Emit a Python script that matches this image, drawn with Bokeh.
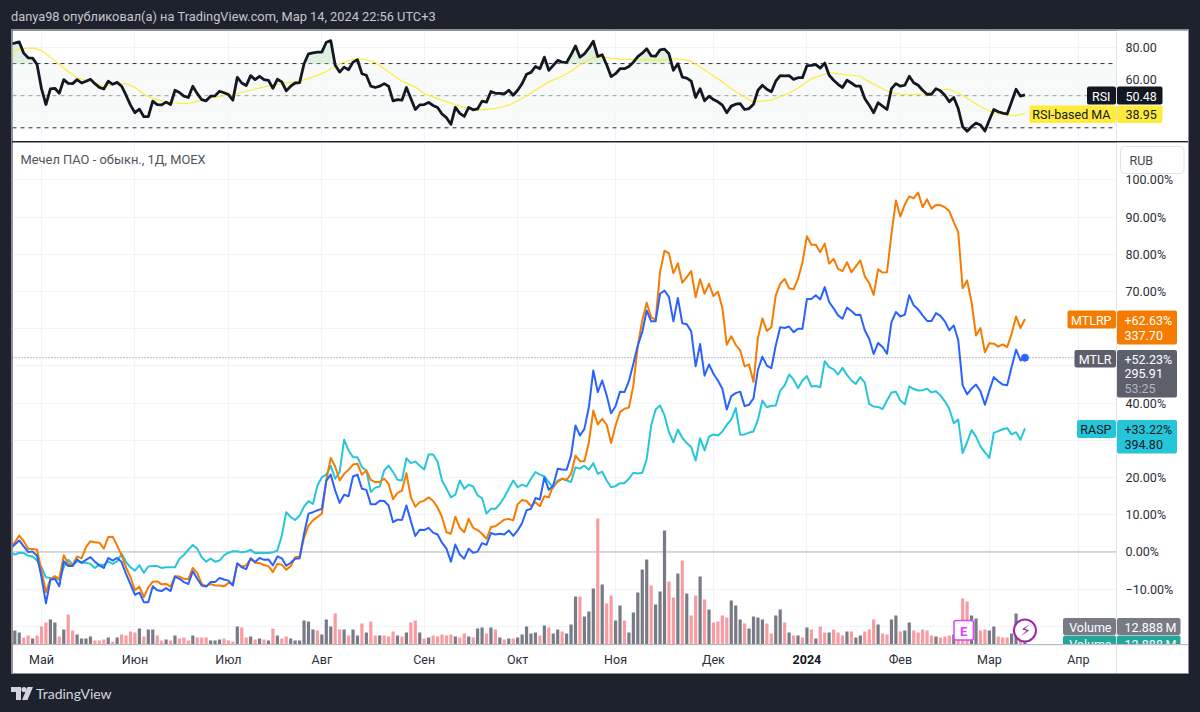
from bokeh.embed import file_html
from bokeh.layouts import column
from bokeh.models import BoxAnnotation, Div, FixedTicker, GlobalInlineStyleSheet, Label, Range1d, Span
from bokeh.plotting import figure
from bokeh.resources import INLINE
import numpy as np

# дневные значения (индекс = торговый день)
mtlr = [
    0.9, 2.0, 3.1, 1.5, 0, 0.1, -1, -6.8, -13.8, -7.5, -7.2, -9.2, -2.5, -3.8, -3.8, -2, -2.9, -2.1, -1.4, -2.6,
    -3.6, -4.3, -1.6, -2.3, -1.6, -2.7, -5.9, -8.7, -11.5, -10.9, -13.5, -13.5, -9.2, -10.3, -10.5, -9.7, -10.5, -6.6, -7.2, -8.1,
    -8.6, -5.2, -7.2, -9, -9.3, -8.1, -8.1, -7, -7.4, -7.7, -9, -3, -4.1, -4.6, -1.7, -2.7, -1.6, -2.1, -2, -3.6,
    -1.2, -1.7, -3.7, -2.9, -1.8, -1.7, 4.9, 10.3, 10.7, 11.2, 11.6, 19.2, 20.8, 16.5, 13.2, 15.4, 15, 20.3, 20.8, 17,
    16.7, 12.8, 12.8, 13.8, 13.7, 12.5, 8, 8.7, 8.6, 12.5, 8.3, 4.3, 6, 5.9, 6.5, 5.2, 4.7, 2.5, 0.9, -2.6,
    2, -0.7, -1.8, 0.9, -0.2, 0.1, 2.4, 1.9, 5.1, 4.7, 4.9, 4.7, 5.8, 4.3, 5.8, 7.8, 11.2, 11.6, 14.5, 14.1,
    20.1, 16.7, 17.9, 22.4, 22.2, 22.1, 25.9, 34, 31.3, 33.1, 38.9, 48.8, 43, 46.1, 42.1, 37.3, 39.2, 43.1, 43, 45.9,
    50.6, 55.5, 59.1, 64.9, 62, 62, 69.4, 70.3, 68.5, 62, 68.3, 61.5, 61.2, 59.3, 49.9, 55.9, 47.4, 50.4, 47.9, 46.1,
    43.9, 38.3, 41.9, 42.7, 43.1, 39.2, 39.6, 41.3, 49, 52.5, 50.1, 49.4, 55.5, 60.4, 60.2, 60.6, 59.1, 60, 60, 68,
    68, 69, 67.9, 71.2, 67.2, 65.5, 63.6, 62.7, 65.7, 64.8, 63.7, 63.8, 59.6, 57.3, 53.2, 56.2, 55.1, 53.3, 61.8, 64.5,
    63.3, 63.8, 69, 66.3, 65.2, 63.6, 62.1, 62.1, 64.2, 63.5, 62, 59.6, 60.9, 57, 44.8, 42.4, 43.9, 45, 43.2, 39.6,
    43.4, 47, 45.9, 45, 44.8, 49.7, 54.4, 51.5, 52.23,
]
mtlrp = [
    0.9, 2.6, 4.4, 2.9, 0.9, 0.8, 0.6, -5, -10.8, -7.3, -6.5, -7.2, -0.9, -3.2, -3.4, -1.2, -1.7, 1.3, 2.9, 2.6,
    2.5, 0.9, 4, 4.1, 1.7, -0.9, -4.1, -6.8, -10.3, -9.3, -12.1, -9.5, -8, -7.9, -8.7, -8.6, -9.3, -6.5, -6.6, -7.2,
    -7.3, -4.3, -5.7, -8.6, -9.2, -8.6, -9, -9, -9.3, -8.3, -8.6, -3.2, -3.9, -3.6, -1.8, -2.9, -3, -3.5, -3.8, -5.4,
    -3.2, -3.4, -4.8, -3.8, -1.4, -1.2, 3.8, 7.1, 8.5, 9.4, 10.3, 19.2, 25.3, 23, 19.2, 21, 22.1, 23.5, 23.7, 20.8,
    21.9, 19.4, 18.8, 18.8, 19.7, 18.3, 14.2, 15.9, 16.5, 21.2, 14.7, 12.2, 13.4, 13.8, 14.7, 13.7, 12, 9.4, 5.3, 4.9,
    9.5, 6.5, 5.3, 8.9, 6.5, 5.9, 4.9, 3.5, 6.7, 6.9, 7.8, 8.7, 8.9, 8.5, 12.8, 14, 13.7, 12.3, 13.4, 12.3,
    15, 14.7, 17.9, 18.8, 19.7, 19.4, 21, 25.9, 24.4, 24.4, 29.5, 38, 34.3, 35.8, 34.2, 29.3, 34, 37.6, 38.5, 38.8,
    44.8, 55.5, 62.2, 67, 63.1, 62.4, 75.2, 81, 80.3, 74.9, 77.6, 72.4, 73.9, 75.5, 68.5, 73.3, 69.4, 72.1, 68.8, 70,
    65.6, 55.7, 58, 55.7, 54.2, 49.9, 50.4, 45.7, 57.6, 62.8, 59.4, 60.4, 69, 72.1, 73.4, 70.9, 70.6, 73.4, 77.9, 84.9,
    82.6, 82.6, 80.6, 82.9, 77.5, 78.8, 76.1, 75.5, 77.9, 75.2, 76.8, 78.4, 74.1, 72.3, 69.1, 76, 75.1, 75.2, 85.5, 94.5,
    90.2, 93.4, 95.6, 95.1, 96.6, 92.7, 94.8, 92.3, 93.3, 93.2, 92.7, 91.6, 88.7, 86, 70.9, 73, 67.2, 58.2, 60.2, 53.7,
    56.1, 56, 55.2, 55.8, 55.1, 58.6, 63.3, 60.2, 62.63,
]
rasp = [
    0, -0.7, -0.2, -0.3, -1, -1.2, -2.3, -4.1, -6.8, -7, -7, -7.5, -4.1, -2.1, -3.4, -2.5, -2.9, -2.9, -3.2, -4.3,
    -3.4, -3.5, -2.5, -3.2, -2.5, -0.5, -2.7, -4.1, -5, -3.6, -5.6, -3.9, -3.8, -3.8, -4.3, -4.1, -4.1, -4.1, -1.8, -0.8,
    0.6, 1.9, 0.9, -1.4, -2.6, -1.8, -2.6, -2.3, -0.9, -0.2, 0.2, 0.2, -0.1, 0.1, 0.6, -0.3, -0.2, -0.3, -0.3, -0.1,
    0.4, 4.4, 10.7, 9.4, 8.6, 9.8, 12.2, 13.7, 12.9, 17.9, 20.1, 20.8, 23.2, 19.7, 21.5, 30.2, 27.3, 25.5, 25.5, 22.8,
    21.9, 16.1, 17.3, 17.6, 21.9, 23.2, 21.5, 19.4, 19.2, 25.2, 23.9, 24.3, 23.2, 22.2, 26.2, 26.2, 24.3, 19.2, 17, 14.7,
    15.4, 19.2, 17, 18.1, 17.6, 15.2, 14.5, 10.3, 11.6, 11.6, 12.9, 14.7, 17, 19.2, 17.4, 18.1, 17.6, 19.7, 21.5, 20.8,
    20.3, 18.8, 17.3, 19.2, 19.7, 19.2, 18.8, 22.8, 22.4, 23.2, 22.1, 23.9, 21, 21.6, 19.2, 17.4, 17.7, 18.5, 18.5, 19.7,
    21.3, 21.1, 21.3, 25, 34, 38.3, 39.4, 36.7, 32.2, 29.5, 32.9, 30.7, 29.3, 28.2, 24.6, 30.6, 27.3, 31, 31.6, 31.3,
    32.4, 34.2, 35.6, 38.7, 31.5, 31.6, 32.1, 32.4, 35.6, 40.7, 38.9, 39.3, 39.4, 43.4, 44.8, 47.7, 46.4, 44, 46.1, 47.3,
    44.5, 44.6, 44.3, 51.3, 49.7, 49.1, 47.7, 49.5, 47.6, 46.1, 45.2, 47, 45.5, 39.8, 39.1, 39, 38.4, 40.7, 42.9, 43.1,
    40.7, 39.7, 44.5, 43.8, 43.4, 43.5, 43.9, 42.9, 43.2, 42.1, 40.5, 38.5, 34.6, 35.6, 26.6, 29.5, 32.8, 31, 28.4, 26.8,
    25.3, 32, 32.5, 33, 33.3, 31.6, 32.2, 30.2, 33.22,
]
rsi = [
    82.3, 82.7, 83.5, 76.5, 73.6, 73.4, 69.5, 54.4, 44.5, 54.2, 54.6, 51.5, 60, 57.7, 57.5, 60, 57.9, 59, 60.2, 57.5,
    55.2, 54.2, 59, 57.1, 58.3, 55.9, 50.3, 44.1, 39.4, 41.6, 36.9, 36.9, 46.6, 44.5, 44.3, 46, 44.5, 53.4, 52, 49.7,
    48.9, 55.9, 51.3, 47.6, 46.8, 49.7, 49.9, 52.8, 51.8, 50.7, 47.2, 61.4, 57.9, 56.3, 62.5, 60, 62.1, 60, 59.6, 54.6,
    60.2, 58.6, 53, 55.9, 57.9, 58.1, 69.9, 76.1, 76.7, 77.1, 77.1, 83.3, 84.3, 68.9, 64.7, 67.8, 66.2, 70.9, 72.4, 63.7,
    62.7, 55.9, 55.1, 55.9, 57.5, 55.9, 46.8, 47.6, 47.2, 55.1, 48.2, 41.4, 44.3, 44.5, 45.8, 43.9, 42.7, 38.6, 36.3, 32.2,
    42.7, 39, 37.1, 42.7, 41.2, 41.8, 46.6, 46, 52.6, 51.5, 51.5, 51.1, 53.4, 50.3, 53.4, 57.5, 63.3, 64.5, 68.2, 66.8,
    74, 65.8, 68.9, 72, 70.9, 70.7, 75.5, 81, 74, 76.1, 79.6, 83.9, 74.4, 75.5, 69.3, 61.9, 63.7, 66.8, 66.8, 68.2,
    70.9, 74.4, 76.5, 79.2, 74.8, 74.6, 78.5, 79, 76.1, 65.8, 69.9, 61.6, 61, 59, 48.9, 54.4, 46.8, 49.7, 47.6, 46.2,
    44.1, 39.4, 43.5, 44.7, 45.1, 41.4, 42, 44.7, 53.4, 56.5, 54, 52.4, 59, 62.5, 62.3, 62.5, 60.2, 61.2, 61.2, 68.7,
    68.9, 69.3, 67.2, 70.3, 62.7, 59.6, 57.1, 55.1, 59.6, 57.9, 55.9, 55.9, 48.2, 44.1, 39.4, 45.6, 43.5, 41.4, 54.4, 57.5,
    55.9, 56.5, 62.1, 58.1, 56.5, 53.4, 50.9, 50.9, 54.4, 53, 50.3, 46.2, 48.9, 42, 30.7, 27.8, 30.7, 33, 31.8, 28,
    34.8, 41.4, 40, 39.2, 38.6, 46.2, 54, 49.7, 50.48,
]
rsi_ma_bars = [
    0, 2, 5, 7, 9, 12, 15, 18, 21, 24, 26, 28, 30, 32, 36, 40, 43, 46, 50, 54, 58, 61, 65, 68, 71, 74, 77, 79, 82, 85,
    88, 91, 93, 97, 101, 105, 109, 112, 115, 118, 121, 124, 126, 128, 131, 133, 137, 142, 146, 150, 153, 155, 159, 163,
    167, 171, 175, 177, 180, 184, 187, 191, 193, 198, 200, 206, 208, 211, 214, 218, 221, 224, 226, 228,
]
rsi_ma = [
    76.7, 79.2, 79.8, 78.1, 74, 67.2, 61, 59, 55.9, 57.5, 57.5, 55.1, 50.9, 48.2, 45.6, 45, 47.2, 49.3, 50.7, 53.4, 56.1,
    57.5, 59, 61.6, 65, 69.9, 72.6, 73, 70.7, 64.7, 59, 55.5, 51.3, 47.2, 43.5, 41, 42, 44.1, 48.2, 53.4, 58.6, 62.1,
    65.2, 69.3, 73.6, 74, 72.8, 72.4, 72, 73, 71.5, 67.8, 60.6, 52.4, 46, 47.2, 51.7, 54.8, 60.6, 64.3, 63.3, 62.1, 58.6,
    51.7, 50.9, 50.9, 53.4, 54, 50.3, 43.1, 39.4, 37.9, 37.5, 38.95,
]
volume = [
    10, 14, 12, 7, 9, 6, 9, 18, 22, 25, 22, 8, 15, 30, 14, 10, 6, 6, 8, 4,
    4, 5, 7, 3, 7, 10, 9, 13, 12, 16, 8, 15, 15, 9, 4, 5, 4, 9, 6, 7,
    4, 9, 7, 7, 7, 4, 4, 5, 6, 4, 3, 18, 17, 7, 8, 5, 6, 5, 4, 16,
    9, 6, 8, 6, 4, 4, 24, 23, 15, 14, 10, 25, 18, 31, 15, 15, 9, 15, 9, 21,
    12, 23, 9, 9, 9, 8, 13, 9, 8, 12, 22, 24, 12, 6, 7, 9, 8, 10, 9, 10,
    8, 7, 11, 8, 7, 16, 17, 11, 17, 15, 7, 5, 6, 6, 7, 10, 18, 11, 12, 9,
    19, 17, 11, 15, 13, 11, 20, 48, 48, 28, 33, 56, 126, 60, 41, 49, 24, 39, 24, 12,
    32, 52, 75, 85, 59, 40, 53, 114, 63, 47, 71, 84, 51, 29, 49, 68, 45, 35, 22, 23,
    29, 27, 44, 39, 25, 21, 16, 28, 27, 25, 21, 11, 29, 35, 22, 12, 9, 9, 7, 17,
    15, 6, 18, 12, 12, 15, 12, 9, 13, 13, 7, 9, 13, 15, 25, 20, 11, 10, 25, 29,
    13, 14, 22, 14, 12, 15, 14, 9, 8, 7, 8, 9, 10, 12, 46, 43, 29, 26, 14, 15,
    14, 18, 8, 7, 7, 11, 31, 10, 12.888,
]
volume_up = [
    0, 1, 1, 0, 0, 1, 0, 0, 0, 1, 1, 0, 1, 0, 0, 1, 1, 1, 1, 0,
    0, 0, 1, 0, 1, 0, 0, 0, 0, 1, 0, 1, 1, 0, 0, 1, 0, 1, 0, 0,
    0, 1, 0, 0, 0, 1, 1, 1, 0, 0, 0, 1, 0, 0, 1, 0, 1, 0, 1, 0,
    1, 0, 0, 1, 1, 1, 1, 1, 1, 0, 1, 1, 1, 0, 0, 1, 0, 1, 1, 0,
    1, 0, 0, 1, 0, 0, 0, 1, 0, 1, 0, 0, 1, 0, 1, 0, 0, 0, 0, 0,
    1, 0, 0, 1, 0, 1, 1, 0, 1, 0, 1, 0, 1, 0, 1, 1, 1, 1, 1, 0,
    1, 0, 1, 1, 0, 1, 1, 1, 0, 1, 1, 1, 0, 1, 0, 0, 1, 1, 0, 1,
    1, 1, 1, 1, 0, 1, 1, 1, 0, 0, 1, 0, 1, 0, 0, 1, 0, 1, 0, 0,
    0, 0, 1, 1, 1, 0, 1, 1, 1, 1, 0, 0, 1, 1, 0, 1, 0, 1, 0, 1,
    0, 1, 0, 0, 1, 0, 0, 0, 1, 0, 1, 1, 0, 0, 0, 1, 0, 0, 1, 1,
    0, 1, 1, 0, 0, 0, 0, 0, 1, 0, 0, 0, 1, 0, 0, 0, 1, 1, 0, 0,
    1, 1, 0, 0, 0, 1, 1, 0, 1,
]
month_bars = [7, 28, 49, 70, 93, 114, 136, 158, 179, 200, 220, 240]
month_labels = ["Май", "Июн", "Июл", "Авг", "Сен", "Окт", "Ноя", "Дек", "2024", "Фев", "Мар", "Апр"]
pct_ticks = [-20, -10, 0, 10, 20, 30, 40, 50, 60, 70, 80, 90, 100]
rsi_ticks = [40, 60, 80]
rsi_labels = ["40.00", "60.00", "80.00"]

for s in (mtlr, mtlrp, rasp, rsi, volume, volume_up):
    assert len(s) == 229, len(s)
bars = list(range(229))

FONT = "Roboto"
BLUE, ORANGE, CYAN = "#2962ff", "#f57c00", "#26c6da"
DARK = "#1e222d"
TEXT = "#2a2e39"
GRID = "#f0f3fa"
LINE = "#e0e3eb"
# фрейм на всю ширину панели, ценовая шкала нарисована внутри него: подписи за краем фрейма обрезаются
X_RANGE = (0.483, 264.75)
AXIS_X = 248.57


def make_pane(height, y_range, ticks):
    p = figure(width=1176, height=height, x_range=X_RANGE, y_range=y_range, output_backend="svg",
               toolbar_location=None, min_border=0, outline_line_color=None,
               border_fill_color="white", background_fill_color="white")
    p.xaxis.visible = False
    p.yaxis.visible = False
    p.xgrid.ticker = FixedTicker(ticks=month_bars)
    p.ygrid.ticker = FixedTicker(ticks=ticks)
    p.grid.grid_line_color = GRID
    # белая полоса прячет сетку под шкалой
    p.add_layout(BoxAnnotation(left=AXIS_X, fill_color="white", fill_alpha=1, line_alpha=0, level="glyph"))
    p.add_layout(Span(location=AXIS_X, dimension="height", line_color=LINE, line_width=1))
    return p


def axis_labels(p, ticks, labels):
    for t, s in zip(ticks, labels):
        p.add_layout(Label(x=1113, x_units="screen", y=t, text=s, text_font=FONT, text_font_size="12.5px",
                           text_color=TEXT, text_baseline="middle"))


# page_bottom - y страницы, где кончается фрейм: подписи задаем в пикселях страницы
def box(p, page_bottom, left, right, top, bottom, color, **kw):
    p.add_layout(BoxAnnotation(left=left - 12, right=right - 12, top=page_bottom - top, bottom=page_bottom - bottom,
                               left_units="screen", right_units="screen", top_units="screen", bottom_units="screen",
                               fill_color=color, fill_alpha=1, line_alpha=kw.pop("line_alpha", 0), level="overlay", **kw))


def text(p, page_bottom, x, y, s, color, size="12.5px", align="left", style="normal", font=FONT):
    p.add_layout(Label(x=x - 12, y=page_bottom - y, x_units="screen", y_units="screen", text=s, text_color=color,
                       text_font=font, text_font_size=size, text_align=align, text_baseline="middle",
                       text_font_style=style, level="overlay"))


def price_tag(p, page_bottom, name, lines, left, top, name_h, val_bottom, color, ink, right=1176.5):
    box(p, page_bottom, left, 1115.5, top, top + name_h, color, border_radius=2)
    box(p, page_bottom, 1116.5, right, top, val_bottom, color, border_radius=2)
    text(p, page_bottom, 1111, top + name_h / 2 + 0.5, name, ink, align="right")
    for (s, y, c) in lines:
        text(p, page_bottom, 1124, y, s, c or ink)


# --- RSI
p_rsi = make_pane(111, Range1d(21.47, 90.6), rsi_ticks)
p_rsi.margin = (0, 0, 1, 0)
axis_labels(p_rsi, rsi_ticks, rsi_labels)
p_rsi.add_layout(BoxAnnotation(bottom=30, top=70, right=AXIS_X, fill_color="#f3f8f7", fill_alpha=0.7, line_alpha=0, level="underlay"))
p_rsi.varea(bars, np.full(229, 70.0), np.maximum(rsi, 70), fill_color="#c8e6c9", fill_alpha=0.6)
for lvl, col in ((70, "#2a2e39"), (50, "#9598a1"), (30, "#2a2e39")):
    p_rsi.add_layout(Span(location=lvl, dimension="width", line_color=col, line_width=1, line_dash=[4, 4], level="underlay"))
p_rsi.line(rsi_ma_bars, rsi_ma, line_color="#ffeb3b", line_width=1.2)
p_rsi.line(bars, rsi, line_color="#131722", line_width=2.8, line_join="round")
box(p_rsi, 141, 1086.5, 1115.5, 86, 104, "#131722", border_radius=2)
box(p_rsi, 141, 1116.5, 1162, 86, 104, "#131722", border_radius=2)
text(p_rsi, 141, 1110, 95.5, "RSI", "white", align="right")
text(p_rsi, 141, 1125, 95.5, "50.48", "white")
box(p_rsi, 141, 1029, 1115.5, 105, 122.5, "#ffeb3b", border_radius=2)
box(p_rsi, 141, 1116.5, 1162, 105, 122.5, "#ffeb3b", border_radius=2)
text(p_rsi, 141, 1110, 114, "RSI-based MA", "#131722", align="right")
text(p_rsi, 141, 1125, 114, "38.95", "#131722")

# --- основная панель
p_main = make_pane(502, Range1d(-24.87, 110.08), pct_ticks)
axis_labels(p_main, pct_ticks, [("\u2212" if t < 0 else "") + f"{abs(t)}.00%" for t in pct_ticks])
p_main.extra_y_ranges = {"vol": Range1d(0, 502)}
p_main.vbar(bars, width=0.72, top=volume, bottom=0, y_range_name="vol",
            fill_color=["#787b86" if u else "#f99ca2" for u in volume_up], line_color=None)
p_main.add_layout(Span(location=0, dimension="width", line_color="#b2b5be", line_width=1, level="underlay"))
p_main.add_layout(Span(location=mtlr[-1], dimension="width", line_color="#787b86", line_width=1, line_dash=[1, 2], level="underlay"))
p_main.line(bars, rasp, line_color=CYAN, line_width=2, line_join="round")
p_main.line(bars, mtlrp, line_color=ORANGE, line_width=2, line_join="round")
p_main.line(bars, mtlr, line_color=BLUE, line_width=2, line_join="round")
p_main.scatter([bars[-1]], [mtlr[-1]], size=7, fill_color=BLUE, line_color=BLUE)

text(p_main, 644, 20, 159, "Мечел ПАО - обыкн., 1Д, MOEX", "#50535e", size="12.9px")
box(p_main, 644, 1120, 1183.5, 146, 173, "white", line_alpha=1, line_color=LINE, line_width=1, border_radius=4)
text(p_main, 644, 1129, 159.5, "RUB", "#434651")
price_tag(p_main, 644, "MTLRP", [("+62.63%", 320, None), ("337.70", 335, None)], 1067, 310, 18, 344, ORANGE, "white")
price_tag(p_main, 644, "MTLR", [("+52.23%", 358.5, None), ("295.91", 373, None), ("53:25", 388, "#b2b5be")],
          1074, 349.5, 17.5, 397, "#5d606b", "white")
price_tag(p_main, 644, "RASP", [("+33.22%", 428.5, None), ("394.80", 444, None)], 1076.5, 419.5, 18, 453, CYAN, "#131722")
price_tag(p_main, 644, "Volume", [("12.888\u2009M", 626.5, None)], 1062.5, 617.5, 17, 634.5, "#787b86", "white", right=1180)
price_tag(p_main, 644, "Volume", [("12.888\u2009M", 644, None)], 1062.5, 635, 17, 652, "#26a69a", "white", right=1180)
box(p_main, 644, 953.5, 973, 620, 639.5, "white", line_alpha=1, line_color="#e040fb", line_width=1.5, border_radius=2)
text(p_main, 644, 963.2, 630.5, "E", "#e040fb", size="13px", align="center", style="bold")
p_main.scatter([bars[-1]], [14], y_range_name="vol", size=22, fill_color="white", line_color="#9c27b0", line_width=2)
text(p_main, 644, 1025, 630, "\u26a1", "#9c27b0", size="16px", align="center", font="DejaVu Sans")

# --- ось времени
p_time = figure(width=1176, height=29, x_range=X_RANGE, y_range=(0, 1), output_backend="svg", toolbar_location=None,
                min_border=0, outline_line_color=None, border_fill_color="white", background_fill_color="white")
p_time.xaxis.visible = False
p_time.yaxis.visible = False
p_time.grid.visible = False
p_time.add_layout(Span(location=1, dimension="width", line_color=LINE, line_width=2))
p_time.add_layout(Span(location=AXIS_X, dimension="height", line_color=LINE, line_width=1))
for b, s in zip(month_bars, month_labels):
    bold = s.isdigit()
    p_time.add_layout(Label(x=b, y=14, y_units="screen", text=s, text_font=FONT, text_font_size="12.5px",
                            text_align="center", text_baseline="middle", text_font_style="bold" if bold else "normal",
                            text_color="#131722" if bold else TEXT))

panel = column(p_rsi, p_main, p_time, spacing=0, margin=(0, 0, 0, 4), styles={"outline": "1px solid #8b8e98"})

header = Div(text="danya98 опубликовал(а) на TradingView.com, Мар 14, 2024 22:56 UTC+3", width=1000, height=22,
             margin=(0, 0, 0, 3),
             styles={"color": "#c3c6ce", "font-family": FONT, "font-size": "12.8px", "line-height": "18px"})
logo = ('<svg width="22" height="13" viewBox="0 0 22 13" style="vertical-align:-1px;margin-right:3px">'
        '<path d="M0 0h10v13h-5v-8h-5z" fill="#d1d4dc"/><circle cx="13" cy="2.6" r="2.6" fill="#d1d4dc"/>'
        '<path d="M16.5 0h5.5l-5.5 13h-5.5z" fill="#d1d4dc"/></svg>')
footer = Div(text=logo + "TradingView", width=300, height=31, margin=(0, 0, 0, 3),
             styles={"color": "#d1d4dc", "font-family": "Lato", "font-size": "14px", "padding-top": "11px"})

page = column(header, panel, footer, spacing=0, margin=(8, 0, 0, 8),
              stylesheets=[GlobalInlineStyleSheet(css=f"html, body {{ background: {DARK}; }}")])

open("out.html", "w").write(file_html(page, INLINE))
